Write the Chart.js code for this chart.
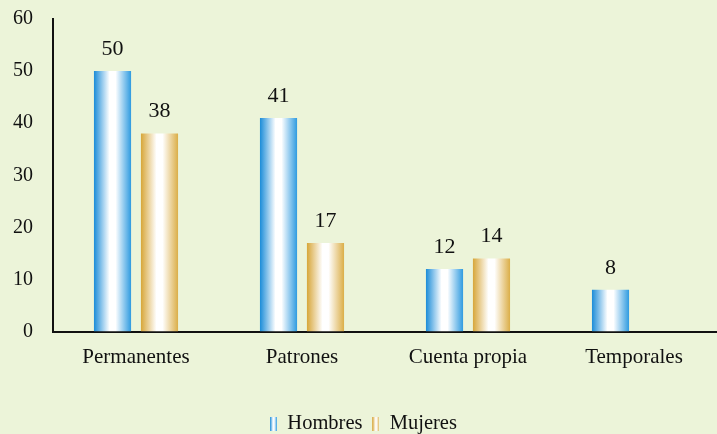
<!DOCTYPE html>
<html>
<head>
<meta charset="utf-8">
<script src="https://cdn.jsdelivr.net/npm/chart.js@4/dist/chart.umd.min.js"></script>
<style>
  html, body { margin: 0; padding: 0; background: #ECF4D9; }
  #wrap { width: 717px; height: 434px; position: relative; }
</style>
</head>
<body>
<div id="wrap"><canvas id="grafico"></canvas></div>
<script>
const CATEGORIE = ['Permanentes', 'Patrones', 'Cuenta propia', 'Temporales'];
const HOMBRES = [50, 41, 12, 8];
const MUJERES = [38, 17, 14, null];
const TICK_Y = [0, 10, 20, 30, 40, 50, 60];

const FONT = '"Liberation Serif", "Times New Roman", serif';

// colori dei bordi delle barre, il centro sfuma sul bianco
const STOPS = {
  Hombres: ['#1B8CD8', '#2F9BE0'],
  Mujeres: ['#D7A639', '#DBAE48'],
};

function sfumatura(ctx, x0, x1, nome) {
  const [a, b] = STOPS[nome];
  const g = ctx.createLinearGradient(x0, 0, x1, 0);
  g.addColorStop(0, a);
  g.addColorStop(0.42, '#ffffff');
  g.addColorStop(0.58, '#ffffff');
  g.addColorStop(1, b);
  return g;
}

function iconaLegenda(nome) {
  const c = document.createElement('canvas');
  c.width = 7; c.height = 14;
  const cx = c.getContext('2d');
  cx.fillStyle = sfumatura(cx, 0, 7, nome);
  cx.fillRect(0, 0, 7, 14);
  return c;
}

const barreSfumate = {
  id: 'barreSfumate',
  beforeDatasetDraw(chart, args) {
    const ds = chart.data.datasets[args.index];
    // le opzioni sono condivise tra le barre: ne serve una copia per ciascuna
    args.meta.data.forEach((bar) => {
      const w = bar.width;
      bar.options = Object.assign({}, bar.options, {
        backgroundColor: sfumatura(chart.ctx, bar.x - w / 2, bar.x + w / 2, ds.label),
      });
    });
  },
  afterDatasetsDraw(chart) {
    const ctx = chart.ctx;
    ctx.save();
    ctx.font = '22px ' + FONT;
    ctx.fillStyle = '#111';
    ctx.textAlign = 'center';
    ctx.textBaseline = 'bottom';
    chart.data.datasets.forEach((ds, i) => {
      chart.getDatasetMeta(i).data.forEach((bar, j) => {
        const v = ds.data[j];
        if (v == null) return;
        ctx.fillText(String(v), bar.x, bar.y - 11);
      });
    });
    ctx.restore();
  },
};

new Chart(document.getElementById('grafico'), {
  type: 'bar',
  data: {
    labels: CATEGORIE,
    datasets: [
      { label: 'Hombres', data: HOMBRES, backgroundColor: '#1B8CD8' },
      { label: 'Mujeres', data: MUJERES, backgroundColor: '#D7A639' },
    ],
  },
  options: {
    responsive: true,
    maintainAspectRatio: false,
    animation: false,
    layout: { padding: { top: 0, right: 0, left: 10, bottom: -10 } },
    datasets: { bar: { categoryPercentage: 0.566, barPercentage: 0.79 } },
    scales: {
      x: {
        grid: { display: false, drawTicks: false },
        border: { color: '#111', width: 2 },
        ticks: { color: '#111', font: { family: FONT, size: 21 }, padding: 13 },
        afterFit: (s) => { s.height = 72; },
      },
      y: {
        min: 0, max: 60,
        afterBuildTicks: (s) => { s.ticks = TICK_Y.map((v) => ({ value: v })); },
        grid: { display: false, drawTicks: false },
        border: { color: '#111', width: 2 },
        ticks: { color: '#111', font: { family: FONT, size: 20 }, padding: 20 },
        // il padding delle etichette spingerebbe l'asse troppo in basso
        afterFit: (s) => { s.width = 43; s.paddingTop = 19; },
      },
    },
    plugins: {
      legend: {
        position: 'bottom',
        labels: {
          color: '#111',
          font: { family: FONT, size: 20.5 },
          usePointStyle: true,
          boxWidth: 7,
          boxHeight: 14,
          padding: 10,
          generateLabels: (chart) => chart.data.datasets.map((ds, i) => ({
            text: ds.label,
            pointStyle: iconaLegenda(ds.label),
            fontColor: '#111',
            datasetIndex: i,
            lineWidth: 0,
          })),
        },
      },
      tooltip: { enabled: false },
    },
  },
  plugins: [barreSfumate],
});
</script>
</body>
</html>
